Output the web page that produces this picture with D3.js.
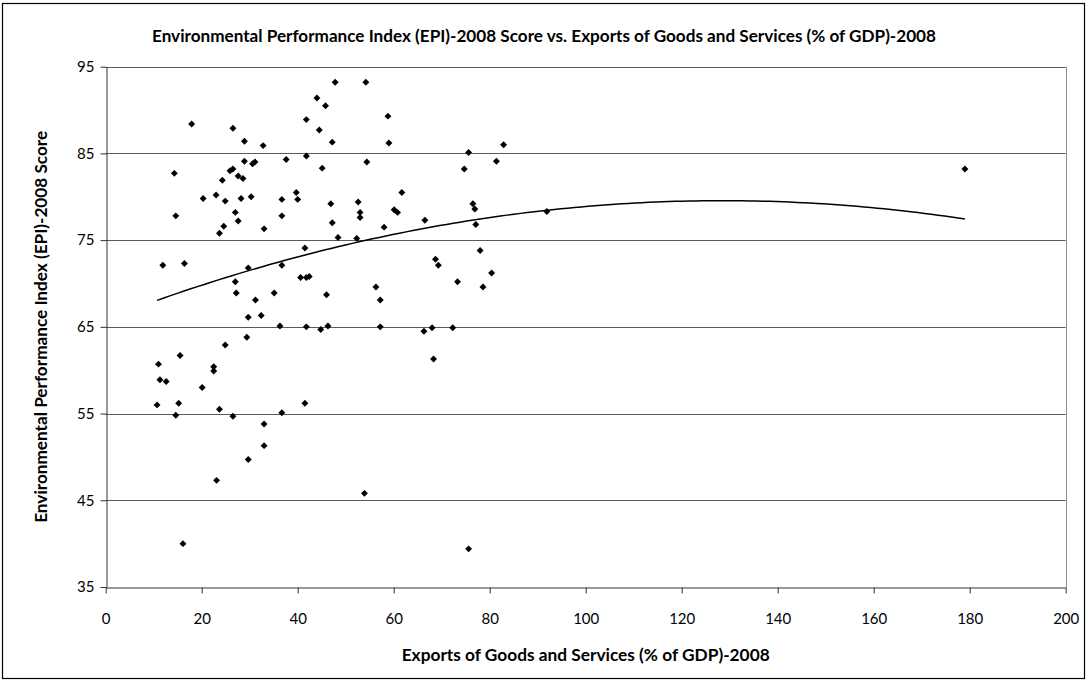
<!DOCTYPE html>
<html>
<head>
<meta charset="utf-8">
<script src="https://cdn.jsdelivr.net/npm/d3@7"></script>
<style>
  body { margin: 0; background: #fff; }
  svg { display: block; font-family: Lato, "Open Sans", sans-serif; }
</style>
</head>
<body>
<svg id="chart" width="1088" height="681"></svg>
<script>
// exports of goods and services (% of GDP), 2008
const exportsPct = [
  17.9, 26.5, 28.9, 32.8, 28.9, 30.6, 31.1, 14.3, 25.9, 26.5, 24.3, 27.6, 28.6,
  20.3, 23.0, 24.9, 28.2, 30.3, 14.6, 27.0, 27.6, 24.6, 23.7, 33.0, 11.9, 16.4,
  29.7, 27.0, 27.2, 35.1, 31.2, 29.7, 32.4,
  29.4, 24.9, 15.5, 11.0, 22.5, 22.5, 11.3, 12.6, 20.1, 10.7, 15.2, 14.6, 23.7,
  26.5, 33.0, 33.0, 29.7, 23.1, 16.1, 36.7,
  47.8, 54.2, 44.0, 45.8, 41.8, 58.8, 44.5, 47.2, 59.0, 37.6, 41.8, 54.4, 45.1,
  39.7, 36.7, 40.0, 61.7, 46.9, 52.6, 53.0, 53.0, 60.1, 60.8, 36.7, 47.2, 58.0,
  48.4, 52.3, 41.5, 36.7, 40.6, 41.8, 42.4, 46.0, 56.3, 57.2, 36.3, 41.8, 44.8,
  46.3, 57.2,
  41.5, 53.9,
  82.9, 75.6, 81.4, 74.7, 76.5, 76.9, 66.5, 77.1, 91.9, 78.0, 68.7, 69.3, 80.4,
  73.3, 78.6, 68.0, 72.3, 66.3, 68.3, 75.6,
  179.0
];

// EPI 2008 score
const epiScore = [
  88.4, 87.9, 86.4, 85.9, 84.1, 83.8, 84.0, 82.7, 83.0, 83.2, 81.9, 82.4, 82.1,
  79.8, 80.2, 79.5, 79.8, 80.0, 77.8, 78.2, 77.2, 76.6, 75.8, 76.3, 72.1, 72.3,
  71.8, 70.2, 68.9, 68.9, 68.1, 66.1, 66.3,
  63.8, 62.9, 61.7, 60.7, 60.4, 59.9, 58.9, 58.7, 58.0, 56.0, 56.2, 54.8, 55.5,
  54.7, 53.8, 51.3, 49.7, 47.3, 40.0, 55.1,
  93.2, 93.2, 91.4, 90.5, 88.9, 89.3, 87.7, 86.3, 86.2, 84.3, 84.7, 84.0, 83.3,
  80.5, 79.7, 79.7, 80.5, 79.2, 79.4, 78.2, 77.6, 78.5, 78.2, 77.8, 77.0, 76.5,
  75.3, 75.2, 74.1, 72.1, 70.7, 70.7, 70.8, 68.7, 69.6, 68.1, 65.1, 65.0, 64.7,
  65.1, 65.0,
  56.2, 45.8,
  86.0, 85.1, 84.1, 83.2, 79.2, 78.6, 77.3, 76.8, 78.3, 73.8, 72.8, 72.1, 71.2,
  70.2, 69.6, 64.9, 64.9, 64.5, 61.3, 39.4,
  83.2
];

const xTicks = [0, 20, 40, 60, 80, 100, 120, 140, 160, 180, 200];
const yTicks = [35, 45, 55, 65, 75, 85, 95];

const chartTitle = 'Environmental Performance Index (EPI)-2008 Score vs. Exports of Goods and Services (% of GDP)-2008';
const xTitle = 'Exports of Goods and Services (% of GDP)-2008';
const yTitle = 'Environmental Performance Index (EPI)-2008 Score';

const points = exportsPct.map((d, i) => ({ x: d, y: epiScore[i] }));

const svg = d3.select('#chart');

const x = d3.scaleLinear().domain([0, 200]).range([105.7, 1065.7]);
const y = d3.scaleLinear().domain([35, 95]).range([587, 66.7]);

// chart border
svg.append('rect')
  .attr('x', 2.5).attr('y', 3.5)
  .attr('width', 1082).attr('height', 675)
  .attr('fill', 'none').attr('stroke', '#000').attr('stroke-width', 1.2);

// gridlines
svg.append('g').selectAll('line.grid').data(yTicks.filter((d) => d !== 35)).join('line')
  .classed('grid', true)
  .attr('x1', x(0)).attr('x2', x(200))
  .attr('y1', (d) => Math.round(y(d)) + 0.5).attr('y2', (d) => Math.round(y(d)) + 0.5)
  .attr('stroke', '#5a5a5a');

// right edge of plot area
svg.append('line')
  .attr('x1', Math.round(x(200)) + 0.5).attr('x2', Math.round(x(200)) + 0.5)
  .attr('y1', y(95)).attr('y2', y(35))
  .attr('stroke', '#8c8c8c');

const xAxis = svg.append('g')
  .attr('transform', `translate(0,${Math.round(y(35)) + 0.5})`)
  .call(d3.axisBottom(x).tickValues(xTicks).tickSize(6).tickSizeOuter(0).tickPadding(20));

const yAxis = svg.append('g')
  .attr('transform', `translate(${Math.round(x(0)) + 0.5},0)`)
  .call(d3.axisLeft(y).tickValues(yTicks).tickSize(6).tickSizeOuter(0).tickPadding(6));

[xAxis, yAxis].forEach((ax) => {
  ax.select('.domain').attr('stroke', '#333');
  ax.selectAll('.tick line').attr('stroke', '#333');
  ax.selectAll('.tick text').attr('fill', '#000')
    .style('font-size', '15px').style('font-family', 'Lato, sans-serif');
});

// quadratic trendline, least squares fit of the points
function polyFit2(pts) {
  let s0 = 0, s1 = 0, s2 = 0, s3 = 0, s4 = 0, t0 = 0, t1 = 0, t2 = 0;
  pts.forEach((p) => {
    const xx = p.x;
    s0 += 1; s1 += xx; s2 += xx * xx; s3 += xx * xx * xx; s4 += xx * xx * xx * xx;
    t0 += p.y; t1 += xx * p.y; t2 += xx * xx * p.y;
  });
  const m = [[s0, s1, s2, t0], [s1, s2, s3, t1], [s2, s3, s4, t2]];
  for (let i = 0; i < 3; i++) {
    for (let k = i + 1; k < 3; k++) {
      const f = m[k][i] / m[i][i];
      for (let j = i; j < 4; j++) m[k][j] -= f * m[i][j];
    }
  }
  const c = [0, 0, 0];
  for (let i = 2; i >= 0; i--) {
    let v = m[i][3];
    for (let j = i + 1; j < 3; j++) v -= m[i][j] * c[j];
    c[i] = v / m[i][i];
  }
  return c;
}

const coef = polyFit2(points);
const xMin = d3.min(exportsPct), xMax = d3.max(exportsPct);
const trend = d3.range(0, 121).map((i) => {
  const xv = xMin + (xMax - xMin) * i / 120;
  return { x: xv, y: coef[0] + coef[1] * xv + coef[2] * xv * xv };
});

svg.append('path')
  .datum(trend)
  .attr('fill', 'none')
  .attr('stroke', '#000')
  .attr('stroke-width', 1.5)
  .attr('d', d3.line().x((d) => x(d.x)).y((d) => y(d.y)));

// diamond markers
const diamond = d3.symbol().type(d3.symbolSquare).size(24);
svg.append('g').selectAll('path.pt').data(points).join('path')
  .classed('pt', true)
  .attr('d', diamond)
  .attr('transform', (d) => `translate(${x(d.x)},${y(d.y)}) rotate(45)`)
  .attr('fill', '#000');

// titles
svg.append('text')
  .attr('x', 544).attr('y', 42)
  .attr('text-anchor', 'middle')
  .attr('textLength', 784).attr('lengthAdjust', 'spacingAndGlyphs')
  .style('font-size', '17px').style('font-weight', 'bold')
  .text(chartTitle);

svg.append('text')
  .attr('x', (x(0) + x(200)) / 2).attr('y', 661)
  .attr('text-anchor', 'middle')
  .attr('textLength', 368).attr('lengthAdjust', 'spacingAndGlyphs')
  .style('font-size', '17px').style('font-weight', 'bold')
  .text(xTitle);

svg.append('text')
  .attr('transform', `translate(47,${(y(35) + y(95)) / 2}) rotate(-90)`)
  .attr('text-anchor', 'middle')
  .attr('textLength', 392).attr('lengthAdjust', 'spacingAndGlyphs')
  .style('font-size', '17px').style('font-weight', 'bold')
  .text(yTitle);
</script>
</body>
</html>
